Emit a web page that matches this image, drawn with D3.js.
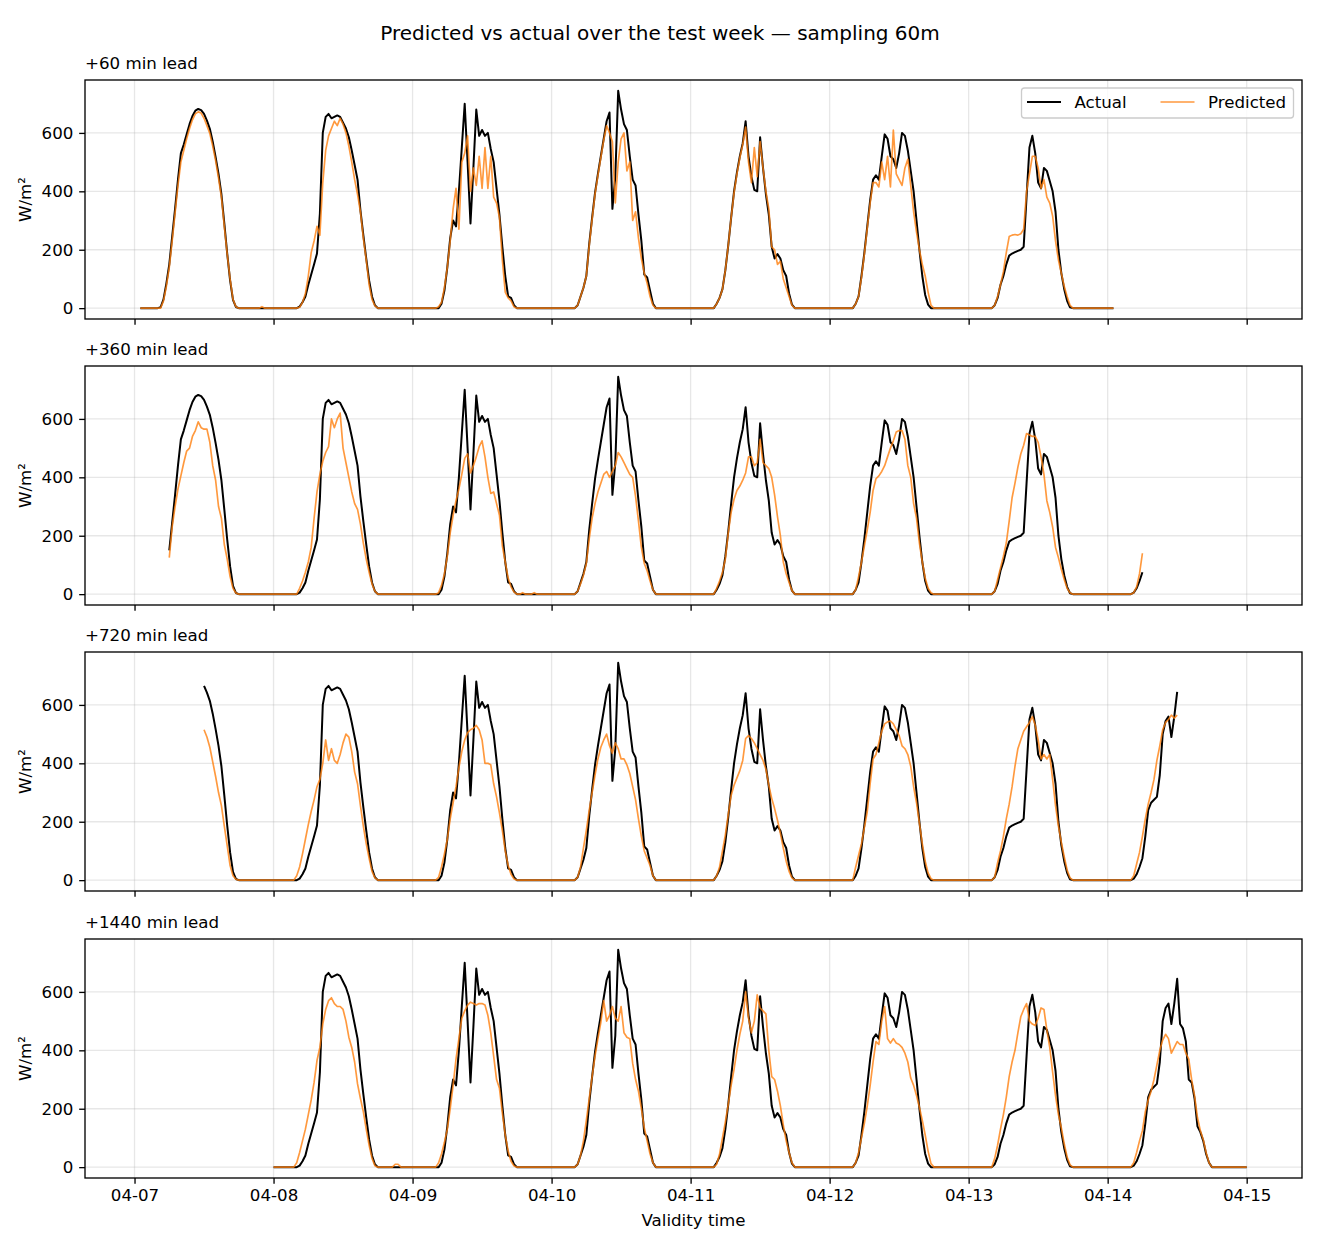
<!DOCTYPE html>
<html>
<head>
<meta charset="utf-8">
<script src="https://cdn.jsdelivr.net/npm/d3@7"></script>
<style>
  body { margin: 0; background: #fff; }
  text { font-family: "DejaVu Sans", sans-serif; }
</style>
</head>
<body>
<svg id="chart"></svg>
<script>
const width = 1320;
const height = 1248;

// forecast leads (minutes) and panel titles
const leads = [60, 360, 720, 1440];
const panelTitles = ['+60 min lead', '+360 min lead', '+720 min lead', '+1440 min lead'];
const dayTicks = ['04-07', '04-08', '04-09', '04-10', '04-11', '04-12', '04-13', '04-14', '04-15'];
const yTicks = [0, 200, 400, 600];

// half-hourly values, W/m²
// actual: 04-07 00:00 .. 04-15 00:00, one row per day (00:00-03:30 | 04:00-18:00 | 18:30-23:30)
const actual = [
  0,0,0,0,0,0,0,0, 0,3,30,85,150,245,340,440,530,560,595,630,658,676,682,678,665,642,614,570,517,460,390,290,187,95,28,4,0, 0,0,0,0,0,0,0,0,0,0,0,
  0,0,0,0,0,0,0,0, 0,5,20,40,80,115,150,187,324,600,655,665,650,655,660,655,635,615,585,540,490,440,335,250,170,95,40,10,0, 0,0,0,0,0,0,0,0,0,0,0,
  0,0,0,0,0,0,0,0, 0,0,15,60,140,240,300,280,400,550,700,500,290,480,680,590,610,590,600,545,500,410,320,210,110,40,35,10,0, 0,0,0,0,0,0,0,0,0,0,0,
  0,0,0,0,0,0,0,0, 0,10,40,70,110,220,310,395,460,520,580,640,670,340,450,744,680,630,610,520,440,420,320,230,115,105,60,15,0, 0,0,0,0,0,0,0,0,0,0,0,
  0,0,0,0,0,0,0,0, 0,15,35,65,130,215,310,400,465,520,565,640,520,450,405,400,585,480,390,320,210,170,185,170,130,110,50,12,0, 0,0,0,0,0,0,0,0,0,0,0,
  0,0,0,0,0,0,0,0, 0,15,40,110,190,280,370,440,455,440,520,595,580,520,510,480,530,600,590,540,470,400,300,200,110,45,12,0,0, 0,0,0,0,0,0,0,0,0,0,0,
  0,0,0,0,0,0,0,0, 0,10,35,80,110,150,180,187,192,196,200,210,380,550,590,530,430,410,480,470,435,400,330,200,120,65,25,3,0, 0,0,0,0,0,0,0,0,0,0,0,
  0,0,0,0,0,0,0,0, 0,5,20,45,75,150,240,265,275,285,360,500,545,560,490,560,645,490,475,430,300,290,235,140,120,90,45,15,0, 0,0,0,0,0,0,0,0,0,0,0,
  0
];

// predicted, each starting at 04-07 00:00 + lead
const pred60 = [
  0,0,0,0,0,0, 0,0,25,75,140,230,325,420,500,540,580,615,645,665,672,668,650,625,598,555,505,445,380,280,185,100,30,5,0, 0,0,0,0,0,0,0,5,0,0,0,
  0,0,0,0,0,0,0,0, 0,3,20,50,110,190,230,280,250,430,540,590,615,640,625,650,630,600,555,500,440,390,330,240,165,80,30,8,0, 0,0,0,0,0,0,0,0,0,0,0,
  0,0,0,0,0,0,0,0, 0,5,20,70,140,230,340,410,270,500,530,590,400,480,420,520,410,550,410,520,380,360,310,165,55,35,25,5,0, 0,0,0,0,0,0,0,0,0,0,0,
  0,0,0,0,0,0,0,0, 0,10,40,70,110,215,305,390,455,515,575,625,600,570,360,500,580,600,470,500,300,330,240,170,120,85,40,10,0, 0,0,0,0,0,0,0,0,0,0,0,
  0,0,0,0,0,0,0,0, 0,15,35,65,130,215,310,395,460,515,560,620,500,430,550,450,570,480,400,340,210,200,150,160,100,70,40,10,0, 0,0,0,0,0,0,0,0,0,0,0,
  0,0,0,0,0,0,0,0, 0,15,40,105,185,275,360,430,430,415,500,440,520,415,610,460,440,420,480,510,420,330,260,200,150,110,55,10,0, 0,0,0,0,0,0,0,0,0,0,0,
  0,0,0,0,0,0,0,0, 0,10,40,80,125,190,245,250,252,250,255,270,400,460,520,520,480,410,440,380,360,315,230,165,120,75,40,10,0, 0,0,0,0,0,0,0,0,0,0,0,
  0,0,0
];
const pred360 = [
  125,230,300,360,405,450,490,500,540,560,590,570,565,565,520,440,390,300,260,170,120,60,20,4,0, 0,0,0,0,0,0,0,0,0,0,0,
  0,0,0,0,0,0,0,0, 0,20,45,75,110,160,260,350,410,455,485,505,600,570,600,620,500,450,400,350,310,290,240,175,120,75,35,10,0, 0,0,0,0,0,0,0,0,0,0,0,
  0,0,0,0,0,0,0,0, 0,5,30,70,130,210,270,320,360,410,465,480,415,440,470,505,525,470,400,345,350,310,270,165,110,55,25,8,0, 0,5,0,0,0,5,0,0,0,0,0,
  0,0,0,0,0,0,0,0, 0,10,35,65,105,190,260,310,350,380,410,420,400,420,440,485,470,450,430,410,400,335,250,160,105,80,45,15,0, 0,0,0,0,0,0,0,0,0,0,0,
  0,0,0,0,0,0,0,0, 0,20,45,75,120,210,280,325,355,370,390,415,470,470,440,450,530,450,440,430,400,340,265,200,110,70,40,12,0, 0,0,0,0,0,0,0,0,0,0,0,
  0,0,0,0,0,0,0,0, 0,15,60,110,165,220,280,355,395,405,420,440,470,500,525,555,560,560,530,440,400,310,260,175,110,55,20,5,0, 0,0,0,0,0,0,0,0,0,0,0,
  0,0,0,0,0,0,0,0, 0,10,50,90,130,175,250,330,380,435,480,510,550,545,540,540,520,470,410,320,280,230,160,125,85,50,20,5,0, 0,0,0,0,0,0,0,0,0,0,0,
  0,0,0,0,0,0,0,0, 0,5,25,70,140
];
const pred720 = [
  515,490,455,405,355,300,255,185,118,50,15,3,0, 0,0,0,0,0,0,0,0,0,0,0,
  0,0,0,0,0,0,0,0, 15,45,90,140,190,235,275,320,345,400,480,410,450,410,400,430,470,500,490,440,370,330,255,185,125,75,30,8,0, 0,0,0,0,0,0,0,0,0,0,0,
  0,0,0,0,0,0,0,0, 0,10,45,90,140,210,265,320,385,440,480,505,515,520,530,515,480,400,400,395,330,285,230,170,100,50,20,5,0, 0,0,0,0,0,0,0,0,0,0,0,
  0,0,0,0,0,0,0,0, 0,10,45,110,170,240,300,360,415,455,480,500,460,435,470,450,415,415,395,365,320,275,210,150,100,75,50,15,0, 0,0,0,0,0,0,0,0,0,0,0,
  0,0,0,0,0,0,0,0, 0,15,45,100,155,225,290,325,350,375,410,485,495,485,470,450,430,410,380,325,280,245,205,160,110,65,30,8,0, 0,0,0,0,0,0,0,0,0,0,0,
  0,0,0,0,0,0,0,0, 0,45,85,125,180,235,330,415,430,470,510,535,542,545,535,515,495,460,450,430,390,320,265,195,125,65,25,5,0, 0,0,0,0,0,0,0,0,0,0,0,
  0,0,0,0,0,0,0,0, 0,10,60,100,150,210,260,320,390,450,480,510,525,540,560,530,480,415,430,415,430,345,255,185,130,80,35,8,0, 0,0,0,0,0,0,0,0,0,0,0,
  0,0,0,0,0,0,0,0, 0,15,55,95,150,210,260,300,345,410,460,515,540,550,565,555,565
];
const pred1440 = [
  0,0,0,0,0,0,0,0, 15,50,90,130,180,230,290,365,410,490,540,570,580,560,550,550,540,500,445,410,360,285,235,190,130,75,30,5,0, 0,0,0,0,0,10,10,0,0,0,0,
  0,0,0,0,0,0,0,0, 0,15,45,85,130,200,280,370,440,510,535,555,565,560,555,560,560,555,520,460,380,300,270,185,110,55,20,5,0, 0,0,0,0,0,0,0,0,0,0,0,
  0,0,0,0,0,0,0,0, 0,10,40,90,160,235,310,380,440,495,570,500,520,550,510,500,550,460,445,440,355,300,260,200,135,90,45,15,0, 0,0,0,0,0,0,0,0,0,0,0,
  0,0,0,0,0,0,0,0, 0,10,45,100,155,215,280,335,400,455,500,600,510,460,500,590,545,535,525,400,310,300,260,210,145,90,50,15,0, 0,0,0,0,0,0,0,0,0,0,0,
  0,0,0,0,0,0,0,0, 0,15,50,100,150,210,280,360,430,420,500,550,440,425,440,425,420,410,390,360,305,280,245,205,160,110,55,12,0, 0,0,0,0,0,0,0,0,0,0,0,
  0,0,0,0,0,0,0,0, 0,30,75,130,180,240,310,360,400,460,515,540,560,500,490,485,510,545,540,470,410,325,245,180,135,80,35,8,0, 0,0,0,0,0,0,0,0,0,0,0,
  0,0,0,0,0,0,0,0, 0,15,50,90,125,190,230,260,300,350,400,435,455,440,390,410,430,420,420,390,370,300,245,170,125,95,50,15,0, 0,0,0,0,0,0,0,0,0,0,0,
  0
];
const predicted = [pred60, pred360, pred720, pred1440];

const issueStart = Date.UTC(2024, 3, 7, 0, 0);
const step = 30 * 60 * 1000;

const svg = d3.select('#chart')
  .attr('width', width)
  .attr('height', height);

svg.append('rect')
  .attr('width', width)
  .attr('height', height)
  .attr('fill', '#fff');

const left = 85, right = 1302;
const panelTop = [80, 366, 652, 939];
const panelH = 239;
const fs = 16.67;
const tickLen = 5.83;

// build panel series
const panels = leads.map((lead, i) => {
  const start = issueStart + lead * 60000;
  const pred = predicted[i];
  const off = lead / 30;
  const a = actual.slice(off, off + pred.length);
  return {
    lead,
    act: a.map((v, k) => ({ t: new Date(start + k * step), v })),
    pred: pred.map((v, k) => ({ t: new Date(start + k * step), v }))
  };
});

// shared x scale, padded 5% like matplotlib
const tMin = d3.min(panels, p => p.act[0].t);
const tMax = d3.max(panels, p => p.act[p.act.length - 1].t);
const tPad = (tMax - tMin) * 0.05;
const xScale = d3.scaleUtc()
  .domain([new Date(+tMin - tPad), new Date(+tMax + tPad)])
  .range([left, right]);

const parseTick = d3.utcParse('%Y-%m-%d');
const tickDates = dayTicks.map(s => parseTick('2024-' + s));

svg.append('text')
  .attr('x', width / 2)
  .attr('y', 40)
  .attr('text-anchor', 'middle')
  .attr('font-size', 20)
  .text('Predicted vs actual over the test week — sampling 60m');

panels.forEach((p, i) => {
  const top = panelTop[i];
  const bottom = top + panelH;
  const all = p.act.map(d => d.v).concat(p.pred.map(d => d.v));
  const vMin = d3.min(all), vMax = d3.max(all);
  const vPad = (vMax - vMin) * 0.05;
  const yScale = d3.scaleLinear()
    .domain([vMin - vPad, vMax + vPad])
    .range([bottom, top]);

  const g = svg.append('g');

  // grid
  g.selectAll('.vgrid')
    .data(tickDates)
    .enter()
    .append('line')
    .attr('x1', d => xScale(d)).attr('x2', d => xScale(d))
    .attr('y1', top).attr('y2', bottom)
    .attr('stroke', '#b0b0b0').attr('stroke-opacity', 0.3).attr('stroke-width', 1.33);
  g.selectAll('.hgrid')
    .data(yTicks)
    .enter()
    .append('line')
    .attr('x1', left).attr('x2', right)
    .attr('y1', d => yScale(d)).attr('y2', d => yScale(d))
    .attr('stroke', '#b0b0b0').attr('stroke-opacity', 0.3).attr('stroke-width', 1.33);

  const clipId = 'clip' + i;
  svg.append('clipPath').attr('id', clipId)
    .append('rect')
    .attr('x', left).attr('y', top)
    .attr('width', right - left).attr('height', panelH);

  const line = d3.line()
    .x(d => xScale(d.t))
    .y(d => yScale(d.v));

  const lines = g.append('g').attr('clip-path', `url(#${clipId})`);
  lines.append('path')
    .datum(p.act)
    .attr('d', line)
    .attr('fill', 'none')
    .attr('stroke', '#000')
    .attr('stroke-width', 2)
    .attr('stroke-linejoin', 'round');
  lines.append('path')
    .datum(p.pred)
    .attr('d', line)
    .attr('fill', 'none')
    .attr('stroke', '#ff7f0e')
    .attr('stroke-opacity', 0.8)
    .attr('stroke-width', 1.67)
    .attr('stroke-linejoin', 'round');

  // axes
  const xAxis = d3.axisBottom(xScale)
    .tickValues(tickDates)
    .tickFormat(i === panels.length - 1 ? d3.utcFormat('%m-%d') : '')
    .tickSize(tickLen)
    .tickSizeOuter(0)
    .tickPadding(5.83);
  const gx = g.append('g')
    .attr('transform', `translate(0, ${bottom})`)
    .call(xAxis);
  const yAxis = d3.axisLeft(yScale)
    .tickValues(yTicks)
    .tickSize(tickLen)
    .tickSizeOuter(0)
    .tickPadding(5.83);
  const gy = g.append('g')
    .attr('transform', `translate(${left}, 0)`)
    .call(yAxis);
  [gx, gy].forEach(ax => {
    ax.select('.domain').remove();
    ax.selectAll('.tick line').attr('stroke', '#000').attr('stroke-width', 1.33);
    ax.selectAll('.tick text')
      .attr('font-size', fs)
      .attr('font-family', '"DejaVu Sans", sans-serif')
      .attr('fill', '#000');
  });

  // frame
  g.append('rect')
    .attr('x', left).attr('y', top)
    .attr('width', right - left).attr('height', panelH)
    .attr('fill', 'none')
    .attr('stroke', '#000')
    .attr('stroke-width', 1.33);

  g.append('text')
    .attr('x', left)
    .attr('y', top - 11)
    .attr('font-size', fs)
    .text(panelTitles[i]);

  const cy = (top + bottom) / 2;
  g.append('text')
    .attr('transform', `translate(31, ${cy}) rotate(-90)`)
    .attr('text-anchor', 'middle')
    .attr('font-size', fs)
    .text('W/m²');

  // legend on the first panel
  if (i === 0) {
    const lg = g.append('g');
    lg.append('rect')
      .attr('x', 1021.5).attr('y', 88)
      .attr('width', 272).attr('height', 30)
      .attr('rx', 3)
      .attr('fill', '#fff').attr('fill-opacity', 0.8)
      .attr('stroke', '#cccccc').attr('stroke-width', 1.33);
    const items = [
      { label: 'Actual', color: '#000', w: 2, op: 1, x: 1027 },
      { label: 'Predicted', color: '#ff7f0e', w: 1.67, op: 0.8, x: 1160.5 }
    ];
    items.forEach(it => {
      lg.append('line')
        .attr('x1', it.x).attr('x2', it.x + 34)
        .attr('y1', 102).attr('y2', 102)
        .attr('stroke', it.color).attr('stroke-width', it.w).attr('stroke-opacity', it.op);
      lg.append('text')
        .attr('x', it.x + 47.5)
        .attr('y', 108)
        .attr('font-size', fs)
        .text(it.label);
    });
  }
});

svg.append('text')
  .attr('x', (left + right) / 2)
  .attr('y', 1226)
  .attr('text-anchor', 'middle')
  .attr('font-size', fs)
  .text('Validity time');
</script>
</body>
</html>
